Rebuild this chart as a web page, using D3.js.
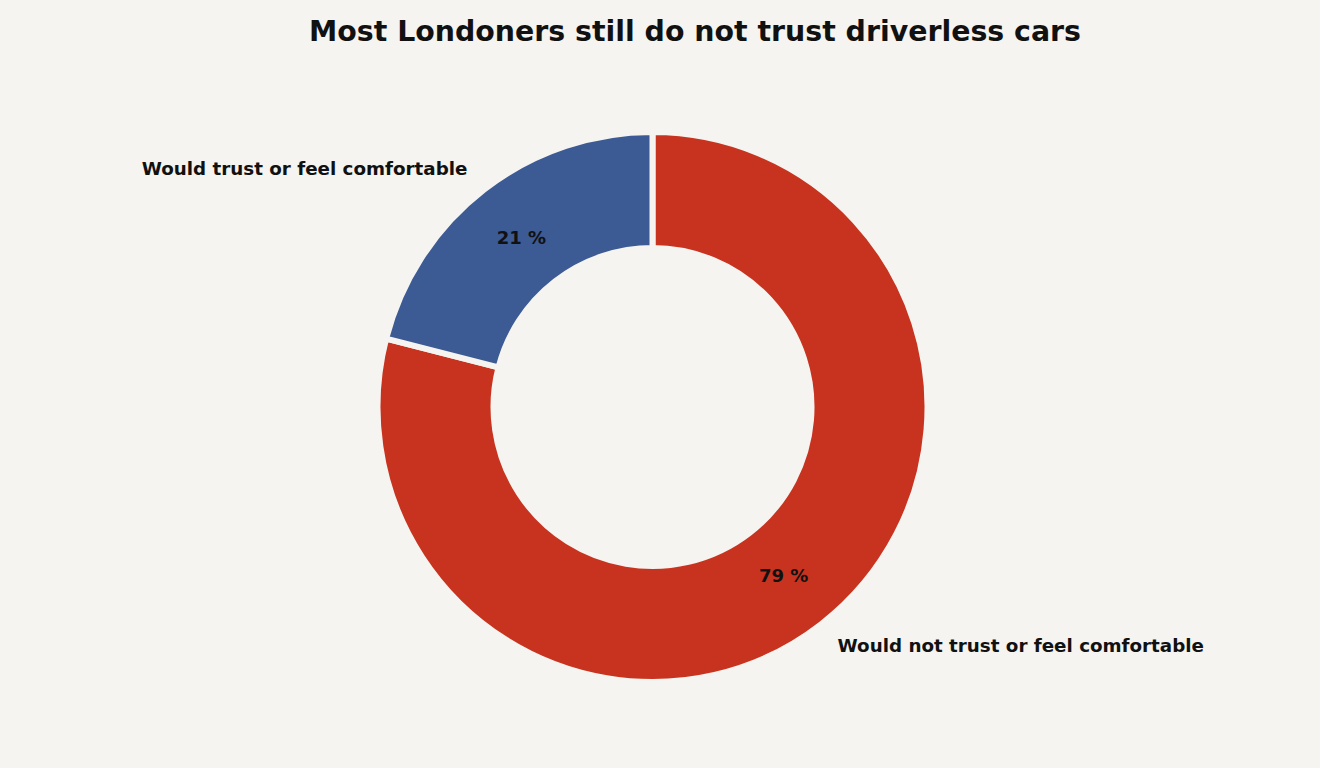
<!DOCTYPE html>
<html>
<head>
<meta charset="utf-8">
<script src="https://cdn.jsdelivr.net/npm/d3@7"></script>
<style>
  body { margin: 0; background: #f5f4f0; }
  text { font-family: "DejaVu Sans", sans-serif; font-weight: bold; fill: #111; }
</style>
</head>
<body>
<svg id="canvas" width="1320" height="768"></svg>
<script>
let categories = ['Would not trust or feel comfortable', 'Would trust or feel comfortable']
let shares = [79, 21]
let colors = ['#c8331f', '#3c5a94']

let canvas = d3.select('#canvas')
let cx = 652.5
let cy = 407
let outer = 275
let inner = 159

canvas.append('rect').attr('width', 1320).attr('height', 768).attr('fill', '#f5f4f0')

canvas.append('text')
      .attr('x', 695)
      .attr('y', 41)
      .attr('text-anchor', 'middle')
      .style('font-size', '28.4px')
      .text('Most Londoners still do not trust driverless cars')

let pie = d3.pie().sort(null).value((d) => d)
let arcs = pie(shares)
let arc = d3.arc().innerRadius(inner).outerRadius(outer)

let g = canvas.append('g').attr('transform', `translate(${cx},${cy})`)

g.selectAll('path')
 .data(arcs)
 .enter()
 .append('path')
 .attr('d', arc)
 .attr('fill', (d, i) => colors[i])
 .attr('stroke', '#f5f4f0')
 .attr('stroke-width', 6)

let pos = (d, r) => {
    let a = (d.startAngle + d.endAngle) / 2
    return [Math.sin(a) * r, -Math.cos(a) * r]
}

g.selectAll('.pct')
 .data(arcs)
 .enter()
 .append('text')
 .attr('class', 'pct')
 .attr('x', (d) => pos(d, 214)[0])
 .attr('y', (d) => pos(d, 214)[1])
 .attr('dy', '0.35em')
 .attr('text-anchor', 'middle')
 .style('font-size', '18px')
 .text((d) => d.data + ' %')

g.selectAll('.lbl')
 .data(arcs)
 .enter()
 .append('text')
 .attr('class', 'lbl')
 .attr('x', (d) => pos(d, 302)[0])
 .attr('y', (d) => pos(d, 302)[1])
 .attr('dy', '0.35em')
 .attr('text-anchor', (d) => pos(d, 1)[0] < 0 ? 'end' : 'start')
 .style('font-size', '18.3px')
 .text((d, i) => categories[i])
</script>
</body>
</html>
